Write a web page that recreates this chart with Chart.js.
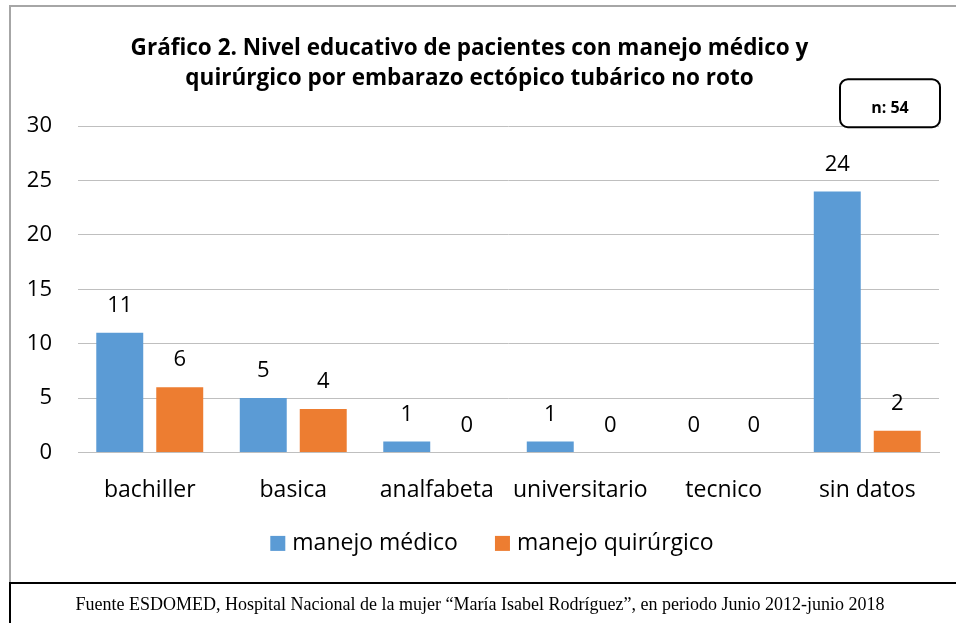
<!DOCTYPE html>
<html>
<head>
<meta charset="utf-8">
<script src="https://cdn.jsdelivr.net/npm/chart.js@4.4.0/dist/chart.umd.min.js"></script>
<style>
  body { margin: 0; background: #fff; }
  #wrap { position: absolute; left: 0; top: 0; width: 956px; height: 623px; overflow: hidden; }
  #frame { position: absolute; left: 9px; top: 5px; width: 960px; height: 590px; border-left: 2px solid #a6a6a6; border-top: 2px solid #a6a6a6; }
  #cv { position: absolute; left: 0; top: 0; }
  #footer { position: absolute; left: 9px; top: 582px; width: 960px; height: 60px; border-left: 2px solid #000; border-top: 2px solid #000; }
  #footer p { margin: 0; position: absolute; left: 0; width: 938px; top: 10px; text-align: center;
    font-family: "Liberation Serif", serif; font-size: 18px; color: #000; }
</style>
</head>
<body>
<div id="wrap">
  <div id="frame"></div>
  <canvas id="cv" width="956" height="583"></canvas>
  <div id="footer"><p>Fuente ESDOMED, Hospital Nacional de la mujer “María Isabel Rodríguez”, en periodo Junio 2012-junio 2018</p></div>
</div>
<script>
// datos
const categorias = ['bachiller', 'basica', 'analfabeta', 'universitario', 'tecnico', 'sin datos']
const medico = [11, 5, 1, 1, 0, 24]
const quirurgico = [6, 4, 0, 0, 0, 2]
const tituloLineas = ['Gráfico 2. Nivel educativo de pacientes con manejo médico y',
                      'quirúrgico por embarazo ectópico tubárico no roto']
const nTotal = 'n: 54'

const fuente = '"Open Sans", sans-serif'

// etiquetas de valor arriba de cada barra
const etiquetas = {
    id: 'etiquetas',
    afterDatasetsDraw(chart) {
        const ctx = chart.ctx
        ctx.save()
        ctx.font = '22px ' + fuente
        ctx.fillStyle = '#000'
        ctx.textAlign = 'center'
        ctx.textBaseline = 'middle'
        chart.data.datasets.forEach((ds, i) => {
            chart.getDatasetMeta(i).data.forEach((bar, j) => {
                ctx.fillText(ds.data[j], bar.x, bar.y - 27)
            })
        })
        ctx.restore()
    }
}

// cuadro "n: 54"
const cuadroN = {
    id: 'cuadroN',
    afterDraw(chart) {
        const ctx = chart.ctx
        const a = chart.chartArea
        const x = a.right - 99, y = a.top - 47, w = 100, h = 48
        ctx.save()
        ctx.strokeStyle = '#000'
        ctx.lineWidth = 2
        ctx.beginPath()
        ctx.roundRect(x, y, w, h, 8)
        ctx.fillStyle = '#fff'
        ctx.fill()
        ctx.stroke()
        ctx.font = 'bold 16px ' + fuente
        ctx.fillStyle = '#000'
        ctx.textAlign = 'center'
        ctx.textBaseline = 'middle'
        ctx.fillText(nTotal, x + w / 2, y + 29)
        ctx.restore()
    }
}

// leyenda dibujada a mano (el espacio entre items no coincide con la de Chart.js)
const leyenda = {
    id: 'leyenda',
    afterDraw(chart) {
        const ctx = chart.ctx
        ctx.save()
        ctx.font = '23px ' + fuente
        ctx.textBaseline = 'middle'
        const box = 15, sep = 7, gap = 37
        const items = chart.data.datasets.map(ds => ({ t: ds.label, c: ds.backgroundColor, w: ctx.measureText(ds.label).width }))
        let total = items.reduce((s, it) => s + box + sep + it.w, 0) + gap * (items.length - 1)
        let x = chart.width / 2 + 14 - total / 2
        const y = chart.chartArea.bottom + 91
        items.forEach(it => {
            ctx.fillStyle = it.c
            ctx.fillRect(x, y - box / 2, box, box)
            ctx.fillStyle = '#000'
            ctx.fillText(it.t, x + box + sep, y)
            x += box + sep + it.w + gap
        })
        ctx.restore()
    }
}

new Chart(document.getElementById('cv'), {
    type: 'bar',
    data: {
        labels: categorias,
        datasets: [
            { label: 'manejo médico', data: medico, backgroundColor: '#5b9bd5' },
            { label: 'manejo quirúrgico', data: quirurgico, backgroundColor: '#ed7d31' }
        ]
    },
    options: {
        responsive: false,
        animation: false,
        layout: { padding: { left: 0, right: 17, top: 0, bottom: 63 } },
        datasets: { bar: { categoryPercentage: 0.836, barPercentage: 0.783 } },
        plugins: {
            tooltip: { enabled: false },
            legend: { display: false },
            title: {
                display: true,
                text: tituloLineas,
                color: '#000',
                font: { family: fuente, size: 22.5, weight: 'bold', lineHeight: 1.36 },
                padding: { top: 33, bottom: 32 }
            }
        },
        scales: {
            x: {
                grid: { display: false },
                border: { color: '#bfbfbf', width: 1 },
                ticks: { color: '#000', font: { family: fuente, size: 23 }, padding: 16, maxRotation: 0 }
            },
            y: {
                min: 0,
                max: 30,
                afterFit(axis) { axis.width = 78 },
                grid: { color: '#bfbfbf', drawTicks: false },
                border: { display: false },
                ticks: { stepSize: 5, color: '#000', font: { family: fuente, size: 22 }, padding: 26 }
            }
        }
    },
    plugins: [etiquetas, cuadroN, leyenda]
})
</script>
</body>
</html>
